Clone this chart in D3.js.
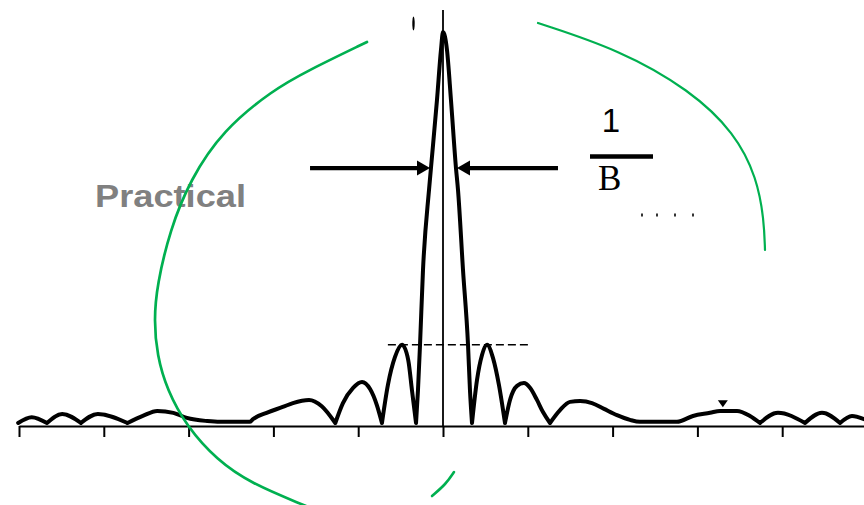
<!DOCTYPE html>
<html>
<head>
<meta charset="utf-8">
<script src="https://cdn.jsdelivr.net/npm/d3@7"></script>
<style>
  body { margin: 0; background: #fff; }
  svg { display: block; }
</style>
</head>
<body>
<div id="chart"></div>
<script>
// response: x in tick units, y relative to the main peak
const freq = [
  -5.01, -4.85, -4.67, -4.49, -4.27, -4.07, -3.72, -3.54, -3.37, -3.18, -3.02, -2.78,
  -2.63, -2.28, -2.24, -2.08, -1.89, -1.77, -1.58, -1.43, -1.27,
  -1.18, -1.06, -0.955, -0.86, -0.78, -0.72,
  -0.65, -0.566, -0.483, -0.41, -0.366, -0.318,
  -0.295, -0.271, -0.236, -0.165, -0.142, -0.071, -0.024, 0,
  0.047, 0.094, 0.153, 0.177, 0.236, 0.295, 0.318, 0.342,
  0.401, 0.46, 0.519, 0.59, 0.66, 0.731,
  0.79, 0.873, 0.955, 1.026, 1.108, 1.179, 1.262,
  1.38, 1.498, 1.616, 1.757, 1.899, 2.052, 2.205, 2.323, 2.759, 2.948, 3.149, 3.267,
  3.467, 3.62, 3.738, 3.95, 4.269, 4.469, 4.682, 4.823, 4.965
];
const magnitude = [
  0, 0.015, 0, 0.023, 0, 0.023, 0, 0.018, 0.031, 0.026, 0.013, 0.005,
  0.003, 0.003, 0.01, 0.026, 0.041, 0.051, 0.059, 0.043, 0,
  0.051, 0.09, 0.105, 0.087, 0.046, 0,
  0.097, 0.169, 0.2, 0.161, 0.084, 0,
  0.084, 0.2, 0.391, 0.596, 0.652, 0.826, 0.954, 1,
  0.954, 0.826, 0.652, 0.596, 0.391, 0.2, 0.084, 0,
  0.11, 0.174, 0.2, 0.166, 0.097, 0,
  0.059, 0.095, 0.102, 0.09, 0.059, 0.028, 0,
  0.033, 0.054, 0.056, 0.051, 0.036, 0.02, 0.008, 0.003, 0.003, 0.018, 0.026, 0.031,
  0.031, 0.018, 0, 0.026, 0, 0.026, 0, 0.018, 0.01
];
const tickValues = [-5, -4, -3, -2, -1, 0, 1, 2, 3, 4];

const sidelobeLevel = 0.2;
const sidelobeSpan = [-0.65, 1.03];
const arrowLevel = 0.652;
const arrowTips = [-0.153, 0.165];
const arrowTails = [-1.568, 1.356];
const markerAt = [3.30, 0.04]; // small pointer above the far right lobe

// hand drawn green ink (page pixels)
const inkLeft = [[367, 42], [307, 71], [273, 90], [223, 130], [190, 180], [170, 230],
  [157, 285], [154, 320], [157, 355], [167, 390], [187, 427], [217, 460], [250, 483], [306, 506]];
const inkBottom = [[454, 472], [446, 484], [432, 496]];
const inkRight = [[538, 23], [620, 50], [690, 90], [735, 133], [757, 178], [764, 220], [765, 250]];

const W = 864, H = 505;
const green = "#00b050";

const svg = d3.select("#chart").append("svg")
  .attr("width", W)
  .attr("height", H)
  .style("font-family", "'Liberation Sans', Arial, sans-serif");

const x = d3.scaleLinear().domain([-5, 5]).range([19, 867]);
const y = d3.scaleLinear().domain([0, 1]).range([423, 32]);

// axis (no labels, ticks hanging down)
const axis = svg.append("g")
  .attr("transform", `translate(0, ${y(0) + 3})`)
  .call(d3.axisBottom(x).tickValues(tickValues).tickSize(11).tickSizeOuter(0).tickFormat(""));
axis.select(".domain").attr("stroke", "#000").attr("stroke-width", 2);
axis.selectAll(".tick line").attr("stroke", "#000").attr("stroke-width", 2);

// centre line
svg.append("line")
  .attr("x1", x(0)).attr("x2", x(0))
  .attr("y1", 10).attr("y2", y(0) + 3)
  .attr("stroke", "#000")
  .attr("stroke-width", 1.8);

// split the response at its nulls so each lobe gets its own smooth piece
const points = freq.map((f, i) => [f, magnitude[i]]);
const lobes = [];
let current = [points[0]];
for (let i = 1; i < points.length; i++) {
  current.push(points[i]);
  if (points[i][1] === 0 && i < points.length - 1) {
    lobes.push(current);
    current = [points[i]];
  }
}
lobes.push(current);

const lobeLine = d3.line()
  .x((d) => x(d[0]))
  .y((d) => y(d[1]))
  .curve(d3.curveMonotoneX);

svg.append("path")
  .attr("d", lobes.map((l) => lobeLine(l)).join(""))
  .attr("fill", "none")
  .attr("stroke", "#000")
  .attr("stroke-width", 4)
  .attr("stroke-linejoin", "round")
  .attr("stroke-linecap", "round");

// first sidelobe level
svg.append("line")
  .attr("x1", x(sidelobeSpan[0])).attr("x2", x(sidelobeSpan[1]))
  .attr("y1", y(sidelobeLevel)).attr("y2", y(sidelobeLevel))
  .attr("stroke", "#000")
  .attr("stroke-width", 1.5)
  .attr("stroke-dasharray", "8,4");

// width arrows
const ay = y(arrowLevel);
arrowTips.forEach((tip, i) => {
  const tx = x(tip);
  const dir = tip < 0 ? 1 : -1;
  const headBase = tx - dir * 13;
  svg.append("line")
    .attr("x1", x(arrowTails[i])).attr("x2", headBase)
    .attr("y1", ay).attr("y2", ay)
    .attr("stroke", "#000")
    .attr("stroke-width", 4.2);
  svg.append("path")
    .attr("d", `M${tx},${ay}L${headBase},${ay - 7.5}L${headBase},${ay + 7.5}Z`)
    .attr("fill", "#000");
});

// 1/B label
svg.append("text")
  .attr("x", 611).attr("y", 132)
  .attr("text-anchor", "middle")
  .style("font-size", "33px")
  .text("1");
svg.append("line")
  .attr("x1", 590).attr("x2", 653)
  .attr("y1", 156.5).attr("y2", 156.5)
  .attr("stroke", "#000")
  .attr("stroke-width", 4.5);
svg.append("text")
  .attr("x", 598).attr("y", 190)
  .style("font-family", "'Liberation Serif', 'Times New Roman', serif")
  .style("font-size", "35px")
  .text("B");

// dotted continuation
svg.selectAll(".dot")
  .data([642, 657, 675, 693])
  .join("rect")
  .attr("class", "dot")
  .attr("x", (d) => d - 1).attr("y", 213.5)
  .attr("width", 2).attr("height", 3)
  .attr("fill", "#333");

// small marks
svg.append("ellipse")
  .attr("cx", 413.5).attr("cy", 23.5)
  .attr("rx", 1.2).attr("ry", 7)
  .attr("fill", "#000");
const mx = x(markerAt[0]), my = y(markerAt[1]);
svg.append("path")
  .attr("d", `M${mx - 5},${my - 7}L${mx + 5},${my - 7}L${mx},${my}Z`)
  .attr("fill", "#000");

// Practical label
svg.append("text")
  .attr("x", 95).attr("y", 207)
  .attr("textLength", 151)
  .attr("lengthAdjust", "spacingAndGlyphs")
  .style("font-size", "31px")
  .style("font-weight", "bold")
  .style("fill", "#808080")
  .text("Practical");

// green ink on top
const ink = d3.line().curve(d3.curveBasis);
svg.append("path").attr("d", ink(inkLeft))
  .attr("fill", "none").attr("stroke", green).attr("stroke-width", 2.7).attr("stroke-linecap", "round");
svg.append("path").attr("d", ink(inkBottom))
  .attr("fill", "none").attr("stroke", green).attr("stroke-width", 2.6).attr("stroke-linecap", "round");
svg.append("path").attr("d", ink(inkRight))
  .attr("fill", "none").attr("stroke", green).attr("stroke-width", 2.2).attr("stroke-linecap", "round");
</script>
</body>
</html>
